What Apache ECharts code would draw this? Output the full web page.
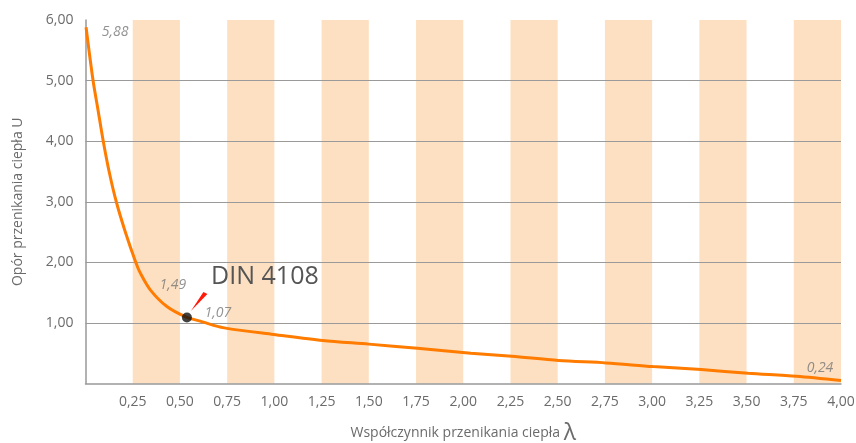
<!DOCTYPE html>
<html>
<head>
<meta charset="utf-8">
<script src="https://cdn.jsdelivr.net/npm/echarts@6/dist/echarts.min.js"></script>
<style>html,body{margin:0;padding:0;background:#fff;}#c{width:856px;height:443px;}</style>
</head>
<body>
<div id="c"></div>
<script>
// Curve: thermal conductivity λ (x) vs U (y)
var lambdaVals = [0.003, 0.040, 0.066, 0.094, 0.125, 0.163, 0.21, 0.266, 0.289, 0.342, 0.431, 0.537, 0.607, 0.678, 0.749, 0.996, 1.256, 1.50, 1.757, 2.04, 2.257, 2.505, 2.756, 3.004, 3.26, 3.508, 3.764, 4.0];
var uVals      = [5.88, 5.00, 4.52, 4.00, 3.50, 3.00, 2.51, 2.00, 1.83, 1.55, 1.27, 1.09, 1.03, 0.96, 0.91, 0.81, 0.71, 0.65, 0.58, 0.50, 0.45, 0.38, 0.34, 0.28, 0.23, 0.17, 0.12, 0.05];
// Reference point DIN 4108
var dinPoint = [0.537, 1.09];
var dinLabel = 'DIN 4108';
// Annotation texts and the curve points they belong to
var annotTexts = ['5,88', '1,49', '1,07', '0,24'];
var annotAnchors = [[0.003, 5.88], [0.537, 1.09], [0.537, 1.09], [4.0, 0.05]];
var xTicks = [0, 0.25, 0.5, 0.75, 1, 1.25, 1.5, 1.75, 2, 2.25, 2.5, 2.75, 3, 3.25, 3.5, 3.75, 4];
var yTicks = [0, 1, 2, 3, 4, 5, 6];

var FONT = '"Open Sans", "Noto Sans", sans-serif';
var fmt = function (v) { return v === 0 ? '' : v.toFixed(2).replace('.', ','); };

var curve = lambdaVals.map(function (x, i) { return [x, uVals[i]]; });
var annotOffsets = [[29, 5], [-14, -32], [31, -4], [-21, -12]];
var annotData = annotTexts.map(function (t, i) {
  return {
    value: annotAnchors[i],
    label: {show: true, formatter: t, offset: annotOffsets[i], position: 'inside'}
  };
});

var chart = echarts.init(document.getElementById('c'));
chart.setOption({
  animation: false,
  grid: {left: 85.5, right: 15, top: 20, bottom: 59.5, containLabel: false, outerBoundsMode: 'none'},
  xAxis: {
    type: 'value', min: 0, max: 4, interval: 0.25, z: 0,
    name: 'Współczynnik przenikania ciepła {l|λ}',
    nameLocation: 'middle', nameGap: 38,
    nameTextStyle: {color: '#6b6b6b', fontSize: 14, fontFamily: FONT,
      rich: {l: {fontSize: 23, color: '#6b6b6b', fontFamily: FONT}}},
    axisLine: {show: true, lineStyle: {color: '#999', width: 1.5}},
    axisTick: {show: false},
    axisLabel: {color: '#6b6b6b', fontSize: 14, fontFamily: FONT, margin: 12, formatter: fmt},
    splitLine: {show: false},
    splitArea: {show: true, areaStyle: {color: ['rgba(255,255,255,0)', '#fde0c2']}}
  },
  yAxis: {
    type: 'value', min: 0, max: 6, interval: 1, z: 2,
    name: 'Opór przenikania ciepła U',
    nameLocation: 'middle', nameGap: 60,
    nameTextStyle: {color: '#6b6b6b', fontSize: 14, fontFamily: FONT},
    axisLine: {show: true, lineStyle: {color: '#999', width: 1.5}},
    axisTick: {show: false},
    axisLabel: {color: '#6b6b6b', fontSize: 14, fontFamily: FONT, margin: 12, formatter: fmt},
    splitLine: {show: true, lineStyle: {color: '#9a9a9a', width: 1.2},
      showMaxLine: false, showMinLine: false}
  },
  series: [
    {
      type: 'line', data: curve, smooth: 0.3, symbol: 'none', z: 3,
      lineStyle: {color: '#ff7c00', width: 3}
    },
    {
      type: 'custom', z: 4,
      data: [dinPoint],
      renderItem: function (params, api) {
        var p = api.coord([api.value(0), api.value(1)]);
        return {
          type: 'group',
          children: [
            {type: 'polygon', shape: {points: [[p[0] + 4, p[1] - 6.5], [p[0] + 16.5, p[1] - 25.5], [p[0] + 20.5, p[1] - 23.5]]},
              style: {fill: '#ff1a0a'}},
            {type: 'text', x: p[0] + 78, y: p[1] - 41,
              style: {text: dinLabel, fill: '#555', fontSize: 25, fontFamily: FONT, align: 'center', verticalAlign: 'middle'}}
          ]
        };
      }
    },
    {
      type: 'scatter', z: 5, data: [dinPoint], symbol: 'circle', symbolSize: 10,
      itemStyle: {color: '#111'}
    },
    {
      type: 'scatter', z: 6, data: annotData, symbolSize: 1, symbol: 'circle',
      itemStyle: {color: 'rgba(0,0,0,0)'},
      label: {show: true, color: '#777', fontSize: 14, fontStyle: 'italic', fontFamily: FONT}
    }
  ]
});
</script>
</body>
</html>
